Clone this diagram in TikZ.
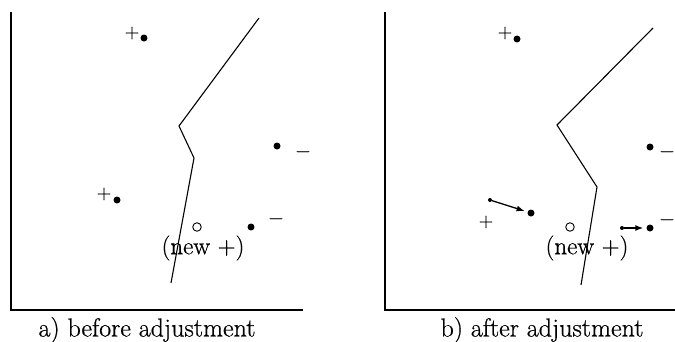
\documentclass[tikz,border=0pt]{standalone}
\usepackage{fontspec}
\setmainfont{Latin Modern Roman}[FakeBold=0.6]
\usetikzlibrary{arrows.meta}
\begin{document}
\begin{tikzpicture}[x=1pt,y=-1pt,
  axis/.style={line width=1.8pt},
  bound/.style={line width=1.1pt},
  pt/.style={circle,fill=black,inner sep=0pt,minimum size=7pt},
  spt/.style={circle,fill=black,inner sep=0pt,minimum size=4pt},
  opt/.style={circle,draw=black,line width=0.9pt,inner sep=0pt,minimum size=8.5pt},
  sgn/.style={inner sep=0pt,font=\fontsize{20}{22}\selectfont},
  lbl/.style={inner sep=0pt,font=\fontsize{25}{28}\selectfont},
  captxt/.style={inner sep=0pt,font=\fontsize{26}{30}\selectfont},
  mv/.style={line width=1.3pt,-{Latex[length=8pt,width=6pt]},shorten >=3pt}]
\useasboundingbox (0,0) rectangle (675,341);
\clip (0,0) rectangle (675,341);
% ---- panel a ----
\coordinate (ayt) at (11,12);
\coordinate (ao) at (11,310);
\coordinate (axe) at (303,310);
\draw[axis] (ayt) -- (ao) -- (axe);
\coordinate (ab1) at (259,18);
\coordinate (ab2) at (179,126);
\coordinate (ab3) at (194,158);
\coordinate (ab4) at (171,283);
\draw[bound] (ab1) -- (ab2) -- (ab3) -- (ab4);
\node[sgn] (ap1) at (132,33) {+};
\node[pt] (ad1) at (144,38) {};
\node[sgn] (ap2) at (104,194) {+};
\node[pt] (ad2) at (117,200) {};
\node[pt] (ad3) at (277,146) {};
\node[sgn] (am1) at (303,154) {−};
\node[pt] (ad4) at (251,227) {};
\node[sgn] (am2) at (276,221) {−};
\node[opt] (anew) at (197,227) {};
\node[lbl] (anl) at (203,248) {(new +)};
\node[captxt] (acap) at (147,330) {a) before adjustment};
% ---- panel b ----
\coordinate (byt) at (385,12);
\coordinate (bo) at (385,310);
\coordinate (bxe) at (675,310);
\draw[axis] (byt) -- (bo) -- (bxe);
\coordinate (bb1) at (653,28);
\coordinate (bb2) at (557,125);
\coordinate (bb3) at (597,187);
\coordinate (bb4) at (581,285);
\draw[bound] (bb1) -- (bb2) -- (bb3) -- (bb4);
\node[sgn] (bp1) at (505,33) {+};
\node[pt] (bd1) at (517,39) {};
\node[pt] (bd3) at (650,147) {};
\node[sgn] (bm1) at (667,154) {−};
\node[spt] (bs2) at (490,200) {};
\node[pt] (bd2) at (531,213) {};
\draw[mv] (bs2) -- (bd2);
\node[sgn] (bp2) at (486,222) {+};
\node[opt] (bnew) at (570,227) {};
\node[lbl] (bnl) at (587,248) {(new +)};
\node[spt] (bs4) at (622,228) {};
\node[pt] (bd4) at (650,228) {};
\draw[mv] (bs4) -- (bd4);
\node[sgn] (bm2) at (667,222) {−};
\node[captxt] (bcap) at (542,330) {b) after adjustment};
\end{tikzpicture}
\end{document}
